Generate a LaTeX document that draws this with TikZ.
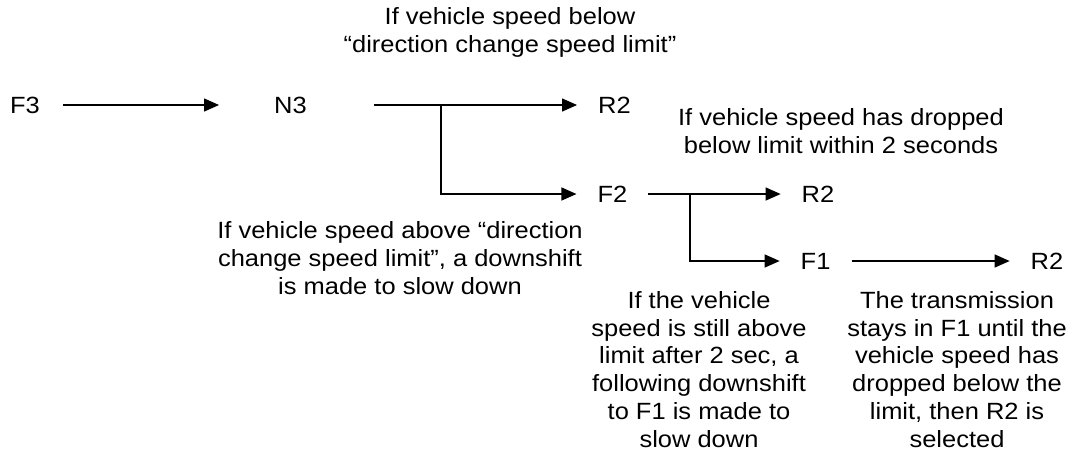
\documentclass[tikz,border=0pt]{standalone}
\usepackage{fontspec}
\setmainfont[FakeStretch=1.085]{Liberation Sans}
\usetikzlibrary{arrows.meta}

\tikzset{
  gear/.style={inner xsep=0.52cm, inner ysep=0pt, font=\fontsize{16.7}{19.7}\selectfont},
  note/.style={inner sep=0pt, anchor=base, align=center, font=\fontsize{16.7}{19.7}\selectfont},
  shift arrow/.style={-{Triangle[length=0.375cm, width=0.325cm]}, line width=0.9pt},
}

\begin{document}
\begin{tikzpicture}
\useasboundingbox (0,0) rectangle (27.025,-11.45);

\node[gear] (F3) at (0.625,-2.625) {F3};
\node[gear] (N3) at (7.26,-2.625) {N3};
\node[gear] (R2a) at (15.36,-2.625) {R2};

\node[gear] (F2) at (15.31,-4.85) {F2};
\node[gear] (R2b) at (20.45,-4.85) {R2};

\node[gear] (F1) at (20.39,-6.525) {F1};
\node[gear] (R2c) at (26.175,-6.525) {R2};

\coordinate (j1) at (11.025,-2.625);
\coordinate (j2) at (17.25,-4.85);

\node[note] (below) at (12.75,-1.3) {If vehicle speed below\\“direction change speed limit”};
\node[note] (dropped) at (21.025,-3.825) {If vehicle speed has dropped\\below limit within 2 seconds};
\node[note] (above) at (10.0,-7.35) {If vehicle speed above “direction\\change speed limit”, a downshift\\is made to slow down};
\node[note] (still) at (17.475,-11.175) {If the vehicle\\speed is still above\\limit after 2 sec, a\\following downshift\\to F1 is made to\\slow down};
\node[note] (stays) at (23.925,-11.175) {The transmission\\stays in F1 until the\\vehicle speed has\\dropped below the\\limit, then R2 is\\selected};

\draw[shift arrow, shorten <=0.06cm, shorten >=0.85cm] (F3) -- (N3);
\draw[shift arrow, shorten <=1.15cm] (N3) -- (R2a);
\draw[shift arrow] (j1) |- (F2);

\draw[shift arrow] (F2) -- (R2b);
\draw[shift arrow] (j2) |- (F1);
\draw[shift arrow] (F1) -- (R2c);

\end{tikzpicture}
\end{document}
